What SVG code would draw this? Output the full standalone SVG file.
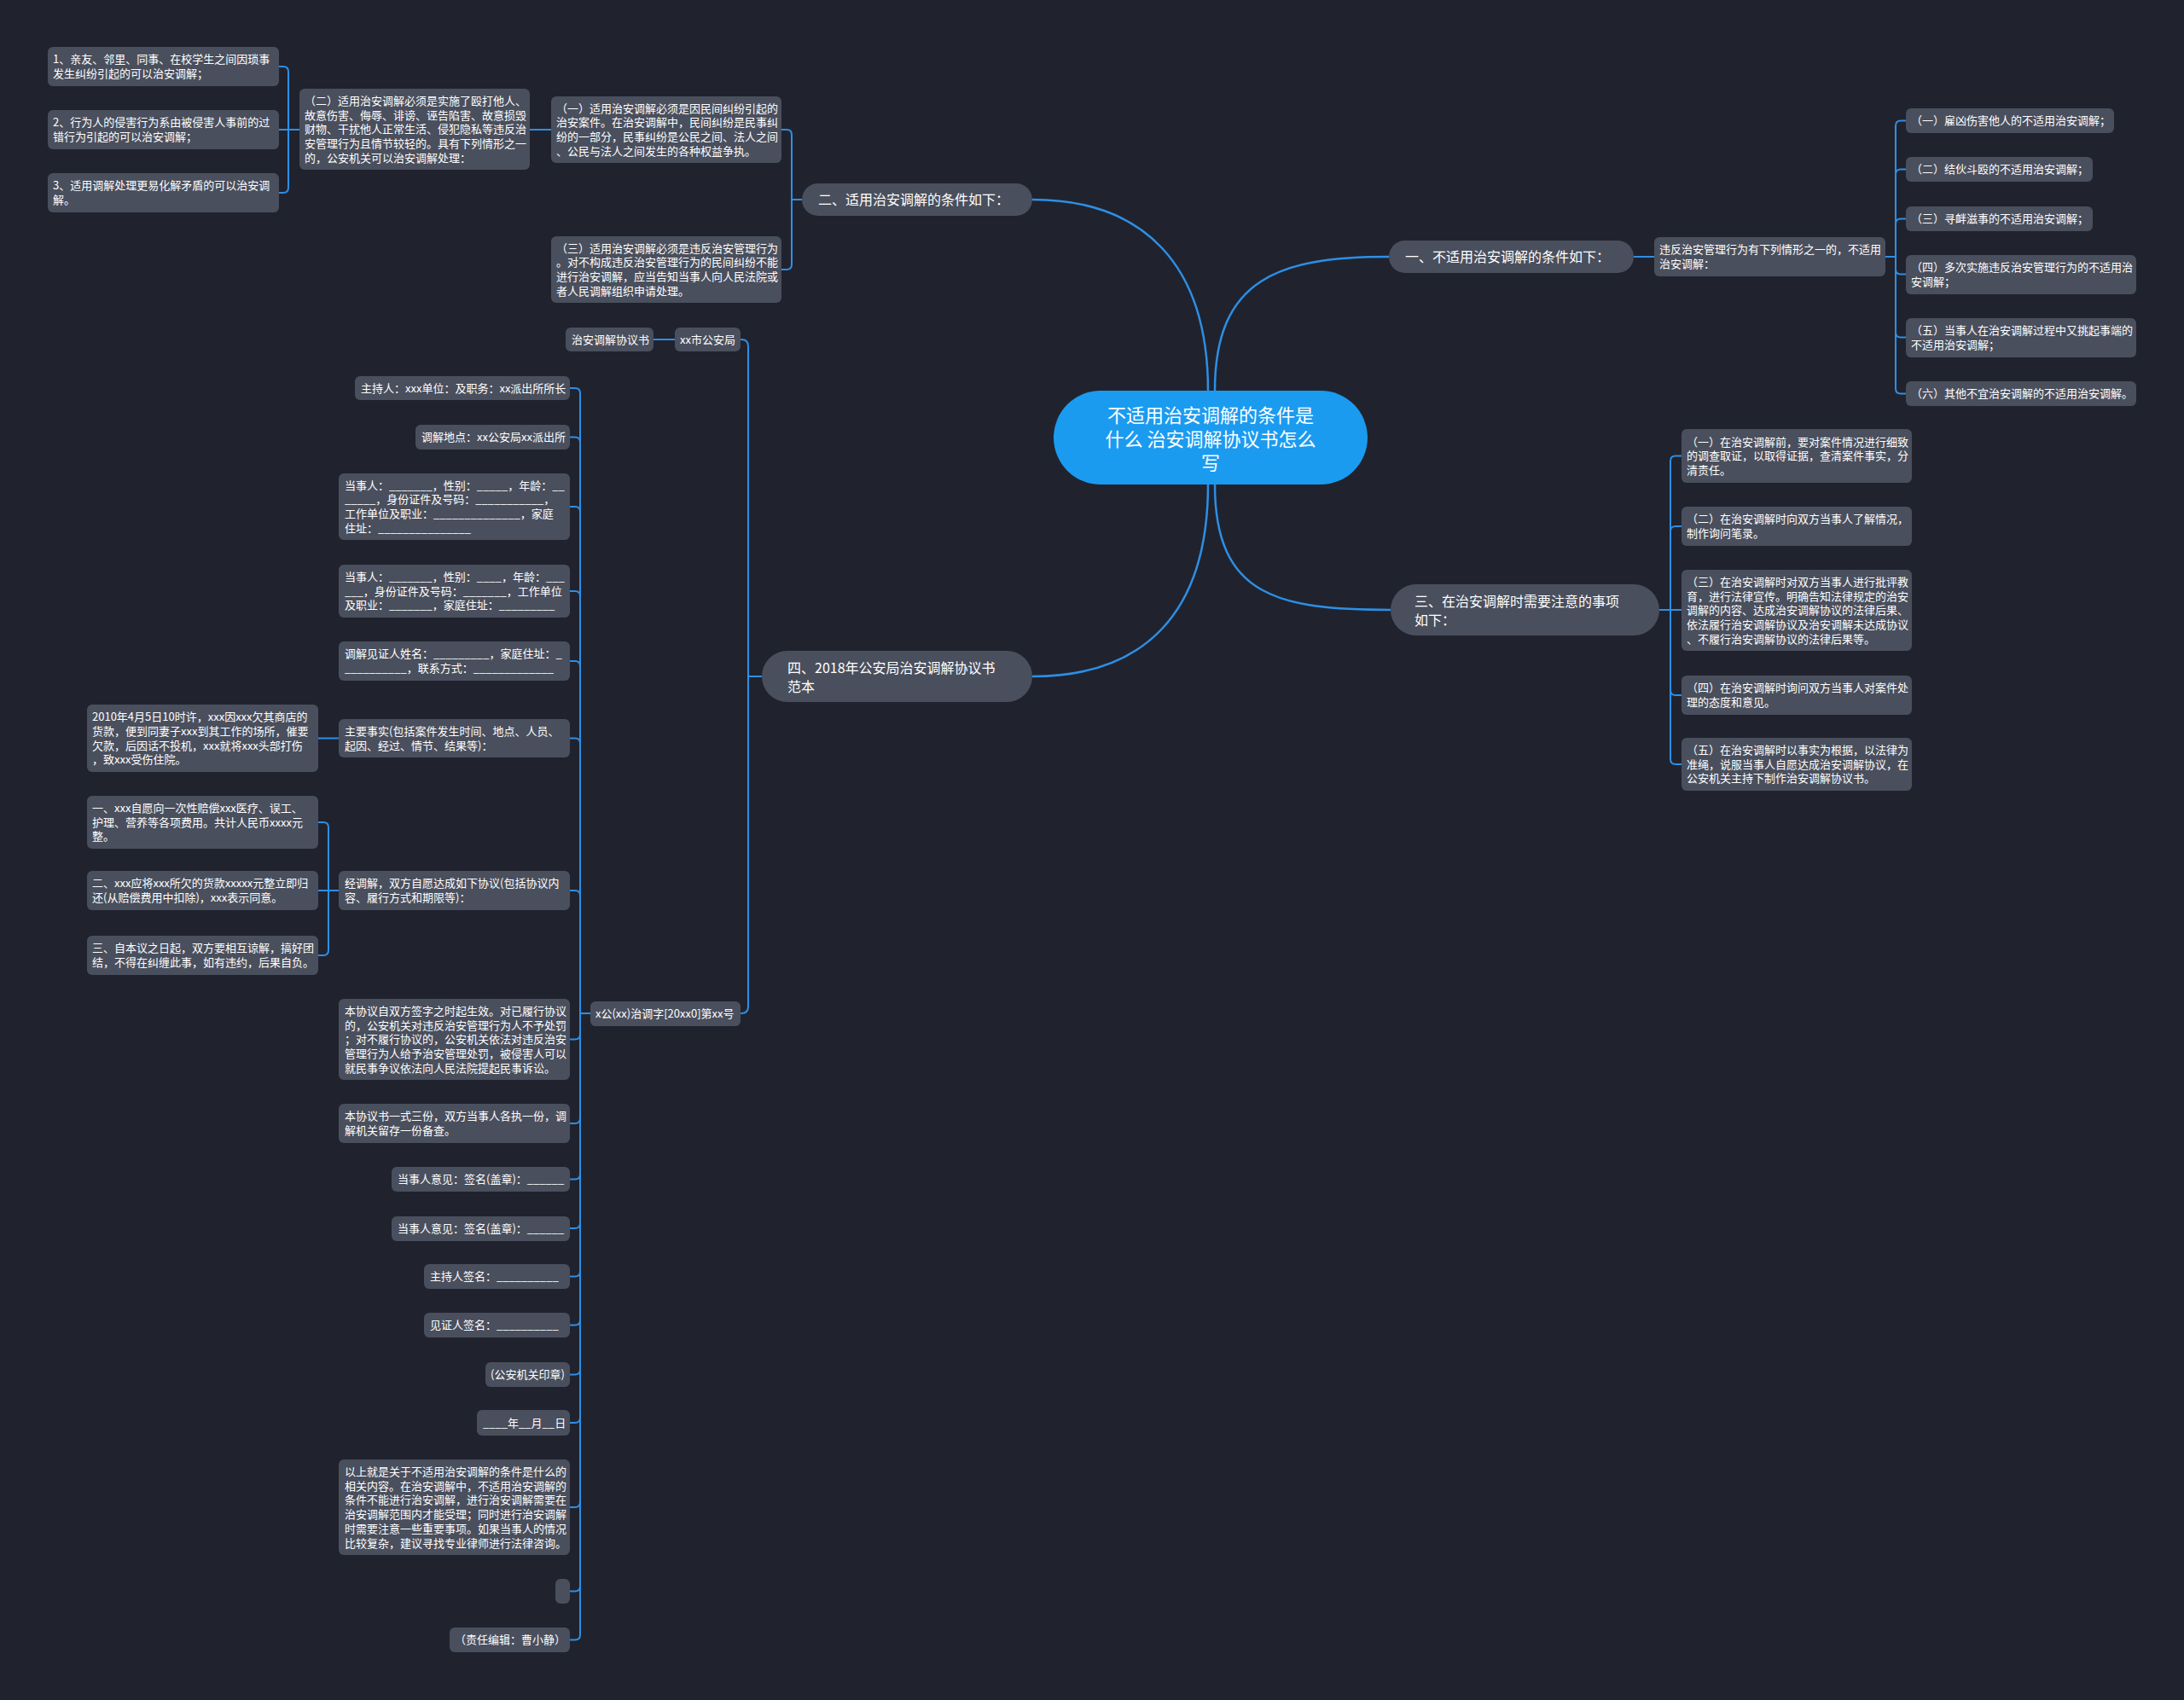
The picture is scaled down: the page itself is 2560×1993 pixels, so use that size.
<svg xmlns="http://www.w3.org/2000/svg" width="2560" height="1993" viewBox="0 0 2560 1993">
<style>
.bg{fill:#20232e}
.n rect{fill:#4a4f5d}
.n text{font-family:"Noto Sans CJK SC","Noto Sans",sans-serif;font-size:13px;fill:#ffffff}
.br rect{fill:#4a4f5d}
.br text{font-family:"Noto Sans CJK SC","Noto Sans",sans-serif;font-size:16px;fill:#ffffff}
.ctr rect{fill:#1b9bf0}
.ctr text{font-family:"Noto Sans CJK SC","Noto Sans",sans-serif;font-size:22px;fill:#ffffff;text-anchor:middle}
.cn path{fill:none;stroke:#2d8fe6;stroke-width:2}
.cn path.m{stroke-width:2.5}
</style>
<rect class="bg" x="0" y="0" width="2560" height="1993"/>

<g id="connectors" class="cn">
<path class="m" d="M1424,458 C1424,326 1500,301 1628,301"/>
<path class="m" d="M1416,458 C1416,310 1340,234 1210,234"/>
<path class="m" d="M1424,568 C1424,700 1500,715 1630,715"/>
<path class="m" d="M1416,568 C1416,720 1340,793 1210,793"/>
<path d="M940,234 H928 V158 Q928,152 922,152 H916"/>
<path d="M940,234 H928 V310 Q928,316 922,316 H916"/>
<path d="M646,152 H621"/>
<path d="M351,152 H338 V84 Q338,78 332,78 H327"/>
<path d="M351,152 H327"/>
<path d="M351,152 H338 V220 Q338,226 332,226 H327"/>
<path d="M1915,301 H1939"/>
<path d="M2210,301 H2222 V147.5 Q2222,141.5 2228,141.5 H2234"/>
<path d="M2210,301 H2222 V204.5 Q2222,198.5 2228,198.5 H2234"/>
<path d="M2210,301 H2222 V262.5 Q2222,256.5 2228,256.5 H2234"/>
<path d="M2210,301 H2222 V315.5 Q2222,321.5 2228,321.5 H2234"/>
<path d="M2210,301 H2222 V389.5 Q2222,395.5 2228,395.5 H2234"/>
<path d="M2210,301 H2222 V455.5 Q2222,461.5 2228,461.5 H2234"/>
<path d="M1945,715 H1958 V540.5 Q1958,534.5 1964,534.5 H1971"/>
<path d="M1945,715 H1958 V623 Q1958,617 1964,617 H1971"/>
<path d="M1945,715 H1971"/>
<path d="M1945,715 H1958 V809 Q1958,815 1964,815 H1971"/>
<path d="M1945,715 H1958 V890 Q1958,896 1964,896 H1971"/>
<path d="M893,793 H877 V406 Q877,398 869,398 H868"/>
<path d="M893,793 H877 V1180 Q877,1188 869,1188 H868"/>
<path d="M791,398 H766"/>
<path d="M692,1188 H680 V461 Q680,455 674,455 H668"/>
<path d="M692,1188 H680 V518.5 Q680,512.5 674,512.5 H668"/>
<path d="M692,1188 H680 V600 Q680,594 674,594 H668"/>
<path d="M692,1188 H680 V699 Q680,693 674,693 H668"/>
<path d="M692,1188 H680 V781 Q680,775 674,775 H668"/>
<path d="M692,1188 H680 V871.5 Q680,865.5 674,865.5 H668"/>
<path d="M692,1188 H680 V1050 Q680,1044 674,1044 H668"/>
<path d="M692,1188 H680 V1212.5 Q680,1218.5 674,1218.5 H668"/>
<path d="M692,1188 H680 V1311 Q680,1317 674,1317 H668"/>
<path d="M692,1188 H680 V1376.5 Q680,1382.5 674,1382.5 H668"/>
<path d="M692,1188 H680 V1434 Q680,1440 674,1440 H668"/>
<path d="M692,1188 H680 V1490.5 Q680,1496.5 674,1496.5 H668"/>
<path d="M692,1188 H680 V1547.5 Q680,1553.5 674,1553.5 H668"/>
<path d="M692,1188 H680 V1605.5 Q680,1611.5 674,1611.5 H668"/>
<path d="M692,1188 H680 V1662 Q680,1668 674,1668 H668"/>
<path d="M692,1188 H680 V1761 Q680,1767 674,1767 H668"/>
<path d="M692,1188 H680 V1859.5 Q680,1865.5 674,1865.5 H668"/>
<path d="M692,1188 H680 V1916.5 Q680,1922.5 674,1922.5 H668"/>
<path d="M397,865.5 H373"/>
<path d="M397,1044 H385 V970 Q385,964 379,964 H373"/>
<path d="M397,1044 H373"/>
<path d="M397,1044 H385 V1114 Q385,1120 379,1120 H373"/>
</g>

<g id="center" class="ctr">
<rect x="1235" y="458" width="368" height="110" rx="55"/>
<text x="1419" y="495"><tspan x="1419">不适用治安调解的条件是</tspan><tspan x="1419" dy="28">什么 治安调解协议书怎么</tspan><tspan x="1419" dy="28">写</tspan></text>
</g>

<g id="b1" class="br"><rect x="1628" y="282" width="287" height="38" rx="19"/><text x="1647" y="307">一、不适用治安调解的条件如下：</text></g>
<g id="b2" class="br"><rect x="940" y="215" width="270" height="38" rx="19"/><text x="959" y="240">二、适用治安调解的条件如下：</text></g>
<g id="b3" class="br"><rect x="1630" y="685" width="315" height="60" rx="30"/><text x="1658" y="711"><tspan x="1658">三、在治安调解时需要注意的事项</tspan><tspan x="1658" dy="22">如下：</tspan></text></g>
<g id="b4" class="br"><rect x="893" y="763" width="317" height="60" rx="30"/><text x="923" y="789"><tspan x="923">四、2018年公安局治安调解协议书</tspan><tspan x="923" dy="22">范本</tspan></text></g>

<g id="l1" class="n"><rect x="56" y="55" width="271" height="46" rx="6"/><text x="62" y="74.3"><tspan x="62">1、亲友、邻里、同事、在校学生之间因琐事</tspan><tspan x="62" dy="16.7">发生纠纷引起的可以治安调解；</tspan></text></g>
<g id="l2" class="n"><rect x="56" y="129" width="271" height="46" rx="6"/><text x="62" y="148.3"><tspan x="62">2、行为人的侵害行为系由被侵害人事前的过</tspan><tspan x="62" dy="16.7">错行为引起的可以治安调解；</tspan></text></g>
<g id="l3" class="n"><rect x="56" y="203" width="271" height="46" rx="6"/><text x="62" y="222.3"><tspan x="62">3、适用调解处理更易化解矛盾的可以治安调</tspan><tspan x="62" dy="16.7">解。</tspan></text></g>
<g id="l_er" class="n"><rect x="351" y="104" width="270" height="95" rx="6"/><text x="357" y="122.8"><tspan x="357">（二）适用治安调解必须是实施了殴打他人、</tspan><tspan x="357" dy="16.7">故意伤害、侮辱、诽谤、诬告陷害、故意损毁</tspan><tspan x="357" dy="16.7">财物、干扰他人正常生活、侵犯隐私等违反治</tspan><tspan x="357" dy="16.7">安管理行为且情节较轻的。具有下列情形之一</tspan><tspan x="357" dy="16.7">的，公安机关可以治安调解处理：</tspan></text></g>
<g id="l_yi" class="n"><rect x="646" y="113" width="270" height="78" rx="6"/><text x="652" y="131.6"><tspan x="652">（一）适用治安调解必须是因民间纠纷引起的</tspan><tspan x="652" dy="16.7">治安案件。在治安调解中，民间纠纷是民事纠</tspan><tspan x="652" dy="16.7">纷的一部分，民事纠纷是公民之间、法人之间</tspan><tspan x="652" dy="16.7">、公民与法人之间发生的各种权益争执。</tspan></text></g>
<g id="l_san" class="n"><rect x="646" y="277" width="270" height="78" rx="6"/><text x="652" y="295.6"><tspan x="652">（三）适用治安调解必须是违反治安管理行为</tspan><tspan x="652" dy="16.7">。对不构成违反治安管理行为的民间纠纷不能</tspan><tspan x="652" dy="16.7">进行治安调解，应当告知当事人向人民法院或</tspan><tspan x="652" dy="16.7">者人民调解组织申请处理。</tspan></text></g>

<g id="r_wf" class="n"><rect x="1939" y="278" width="271" height="46" rx="6"/><text x="1945" y="297.3"><tspan x="1945">违反治安管理行为有下列情形之一的，不适用</tspan><tspan x="1945" dy="16.7">治安调解：</tspan></text></g>
<g id="r1" class="n"><rect x="2234" y="127" width="244" height="29" rx="6"/><text x="2240" y="146.2">（一）雇凶伤害他人的不适用治安调解；</text></g>
<g id="r2" class="n"><rect x="2234" y="184" width="219" height="29" rx="6"/><text x="2240" y="203.2">（二）结伙斗殴的不适用治安调解；</text></g>
<g id="r3" class="n"><rect x="2234" y="242" width="219" height="29" rx="6"/><text x="2240" y="261.2">（三）寻衅滋事的不适用治安调解；</text></g>
<g id="r4" class="n"><rect x="2234" y="299" width="270" height="46" rx="6"/><text x="2240" y="318.3"><tspan x="2240">（四）多次实施违反治安管理行为的不适用治</tspan><tspan x="2240" dy="16.7">安调解；</tspan></text></g>
<g id="r5" class="n"><rect x="2234" y="373" width="270" height="46" rx="6"/><text x="2240" y="392.3"><tspan x="2240">（五）当事人在治安调解过程中又挑起事端的</tspan><tspan x="2240" dy="16.7">不适用治安调解；</tspan></text></g>
<g id="r6" class="n"><rect x="2234" y="447" width="270" height="29" rx="6"/><text x="2240" y="466.2">（六）其他不宜治安调解的不适用治安调解。</text></g>

<g id="s1" class="n"><rect x="1971" y="503" width="270" height="63" rx="6"/><text x="1977" y="522.5"><tspan x="1977">（一）在治安调解前，要对案件情况进行细致</tspan><tspan x="1977" dy="16.7">的调查取证，以取得证据，查清案件事实，分</tspan><tspan x="1977" dy="16.7">清责任。</tspan></text></g>
<g id="s2" class="n"><rect x="1971" y="594" width="270" height="46" rx="6"/><text x="1977" y="613.3"><tspan x="1977">（二）在治安调解时向双方当事人了解情况，</tspan><tspan x="1977" dy="16.7">制作询问笔录。</tspan></text></g>
<g id="s3" class="n"><rect x="1971" y="668" width="270" height="95" rx="6"/><text x="1977" y="686.8"><tspan x="1977">（三）在治安调解时对双方当事人进行批评教</tspan><tspan x="1977" dy="16.7">育，进行法律宣传。明确告知法律规定的治安</tspan><tspan x="1977" dy="16.7">调解的内容、达成治安调解协议的法律后果、</tspan><tspan x="1977" dy="16.7">依法履行治安调解协议及治安调解未达成协议</tspan><tspan x="1977" dy="16.7">、不履行治安调解协议的法律后果等。</tspan></text></g>
<g id="s4" class="n"><rect x="1971" y="792" width="270" height="46" rx="6"/><text x="1977" y="811.3"><tspan x="1977">（四）在治安调解时询问双方当事人对案件处</tspan><tspan x="1977" dy="16.7">理的态度和意见。</tspan></text></g>
<g id="s5" class="n"><rect x="1971" y="865" width="270" height="62" rx="6"/><text x="1977" y="884"><tspan x="1977">（五）在治安调解时以事实为根据，以法律为</tspan><tspan x="1977" dy="16.7">准绳，说服当事人自愿达成治安调解协议，在</tspan><tspan x="1977" dy="16.7">公安机关主持下制作治安调解协议书。</tspan></text></g>

<g id="f_book" class="n"><rect x="663" y="384" width="103" height="28" rx="6"/><text x="670" y="402.7">治安调解协议书</text></g>
<g id="f_city" class="n"><rect x="791" y="384" width="77" height="28" rx="6"/><text x="797" y="402.7">xx市公安局</text></g>
<g id="f_no" class="n"><rect x="692" y="1174" width="176" height="29" rx="6"/><text x="698" y="1193.2">x公(xx)治调字[20xx0]第xx号</text></g>
<g id="f_host" class="n"><rect x="416" y="441" width="252" height="28" rx="6"/><text x="423" y="459.7">主持人：xxx单位：及职务：xx派出所所长</text></g>
<g id="f_place" class="n"><rect x="487" y="498" width="181" height="29" rx="6"/><text x="494" y="517.2">调解地点：xx公安局xx派出所</text></g>
<g id="f_p1" class="n"><rect x="397" y="555" width="271" height="78" rx="6"/><text x="404" y="573.6"><tspan x="404">当事人：_______，性别：_____，年龄：__</tspan><tspan x="404" dy="16.7">_____，身份证件及号码：___________，</tspan><tspan x="404" dy="16.7">工作单位及职业：______________，家庭</tspan><tspan x="404" dy="16.7">住址：_______________</tspan></text></g>
<g id="f_p2" class="n"><rect x="397" y="662" width="271" height="62" rx="6"/><text x="404" y="681"><tspan x="404">当事人：_______，性别：____，年龄：___</tspan><tspan x="404" dy="16.7">___，身份证件及号码：_______，工作单位</tspan><tspan x="404" dy="16.7">及职业：_______，家庭住址：_________</tspan></text></g>
<g id="f_wit" class="n"><rect x="397" y="752" width="271" height="46" rx="6"/><text x="404" y="771.3"><tspan x="404">调解见证人姓名：_________，家庭住址：_</tspan><tspan x="404" dy="16.7">__________，联系方式：_____________</tspan></text></g>
<g id="f_fact" class="n"><rect x="397" y="843" width="271" height="45" rx="6"/><text x="404" y="861.8"><tspan x="404">主要事实(包括案件发生时间、地点、人员、</tspan><tspan x="404" dy="16.7">起因、经过、情节、结果等)：</tspan></text></g>
<g id="f_case" class="n"><rect x="102" y="826" width="271" height="79" rx="6"/><text x="108" y="845.1"><tspan x="108">2010年4月5日10时许，xxx因xxx欠其商店的</tspan><tspan x="108" dy="16.7">货款，便到同妻子xxx到其工作的场所，催要</tspan><tspan x="108" dy="16.7">欠款，后因话不投机，xxx就将xxx头部打伤</tspan><tspan x="108" dy="16.7">，致xxx受伤住院。</tspan></text></g>
<g id="f_agree" class="n"><rect x="397" y="1021" width="271" height="46" rx="6"/><text x="404" y="1040.3"><tspan x="404">经调解，双方自愿达成如下协议(包括协议内</tspan><tspan x="404" dy="16.7">容、履行方式和期限等)：</tspan></text></g>
<g id="f_a1" class="n"><rect x="102" y="933" width="271" height="62" rx="6"/><text x="108" y="952"><tspan x="108">一、xxx自愿向一次性赔偿xxx医疗、误工、</tspan><tspan x="108" dy="16.7">护理、营养等各项费用。共计人民币xxxx元</tspan><tspan x="108" dy="16.7">整。</tspan></text></g>
<g id="f_a2" class="n"><rect x="102" y="1021" width="271" height="46" rx="6"/><text x="108" y="1040.3"><tspan x="108">二、xxx应将xxx所欠的货款xxxxx元整立即归</tspan><tspan x="108" dy="16.7">还(从赔偿费用中扣除)，xxx表示同意。</tspan></text></g>
<g id="f_a3" class="n"><rect x="102" y="1097" width="271" height="46" rx="6"/><text x="108" y="1116.3"><tspan x="108">三、自本议之日起，双方要相互谅解，搞好团</tspan><tspan x="108" dy="16.7">结，不得在纠缠此事，如有违约，后果自负。</tspan></text></g>
<g id="f_eff" class="n"><rect x="397" y="1171" width="271" height="95" rx="6"/><text x="404" y="1189.8"><tspan x="404">本协议自双方签字之时起生效。对已履行协议</tspan><tspan x="404" dy="16.7">的，公安机关对违反治安管理行为人不予处罚</tspan><tspan x="404" dy="16.7">；对不履行协议的，公安机关依法对违反治安</tspan><tspan x="404" dy="16.7">管理行为人给予治安管理处罚，被侵害人可以</tspan><tspan x="404" dy="16.7">就民事争议依法向人民法院提起民事诉讼。</tspan></text></g>
<g id="f_copy" class="n"><rect x="397" y="1294" width="271" height="46" rx="6"/><text x="404" y="1313.3"><tspan x="404">本协议书一式三份，双方当事人各执一份，调</tspan><tspan x="404" dy="16.7">解机关留存一份备查。</tspan></text></g>
<g id="f_op1" class="n"><rect x="459" y="1368" width="209" height="29" rx="6"/><text x="466" y="1387.2">当事人意见：签名(盖章)：______</text></g>
<g id="f_op2" class="n"><rect x="459" y="1426" width="209" height="29" rx="6"/><text x="466" y="1445.2">当事人意见：签名(盖章)：______</text></g>
<g id="f_hs" class="n"><rect x="497" y="1482" width="171" height="29" rx="6"/><text x="504" y="1501.2">主持人签名：__________</text></g>
<g id="f_ws" class="n"><rect x="497" y="1539" width="171" height="29" rx="6"/><text x="504" y="1558.2">见证人签名：__________</text></g>
<g id="f_seal" class="n"><rect x="569" y="1597" width="99" height="29" rx="6"/><text x="575" y="1616.2">(公安机关印章)</text></g>
<g id="f_date" class="n"><rect x="559" y="1653" width="109" height="30" rx="6"/><text x="566" y="1672.7">____年__月__日</text></g>
<g id="f_sum" class="n"><rect x="397" y="1711" width="271" height="112" rx="6"/><text x="404" y="1730"><tspan x="404">以上就是关于不适用治安调解的条件是什么的</tspan><tspan x="404" dy="16.7">相关内容。在治安调解中，不适用治安调解的</tspan><tspan x="404" dy="16.7">条件不能进行治安调解，进行治安调解需要在</tspan><tspan x="404" dy="16.7">治安调解范围内才能受理；同时进行治安调解</tspan><tspan x="404" dy="16.7">时需要注意一些重要事项。如果当事人的情况</tspan><tspan x="404" dy="16.7">比较复杂，建议寻找专业律师进行法律咨询。</tspan></text></g>
<g id="f_empty" class="n"><rect x="651" y="1851" width="17" height="29" rx="6"/></g>
<g id="f_editor" class="n"><rect x="527" y="1908" width="141" height="29" rx="6"/><text x="533" y="1927.2">（责任编辑：曹小静）</text></g>
</svg>
